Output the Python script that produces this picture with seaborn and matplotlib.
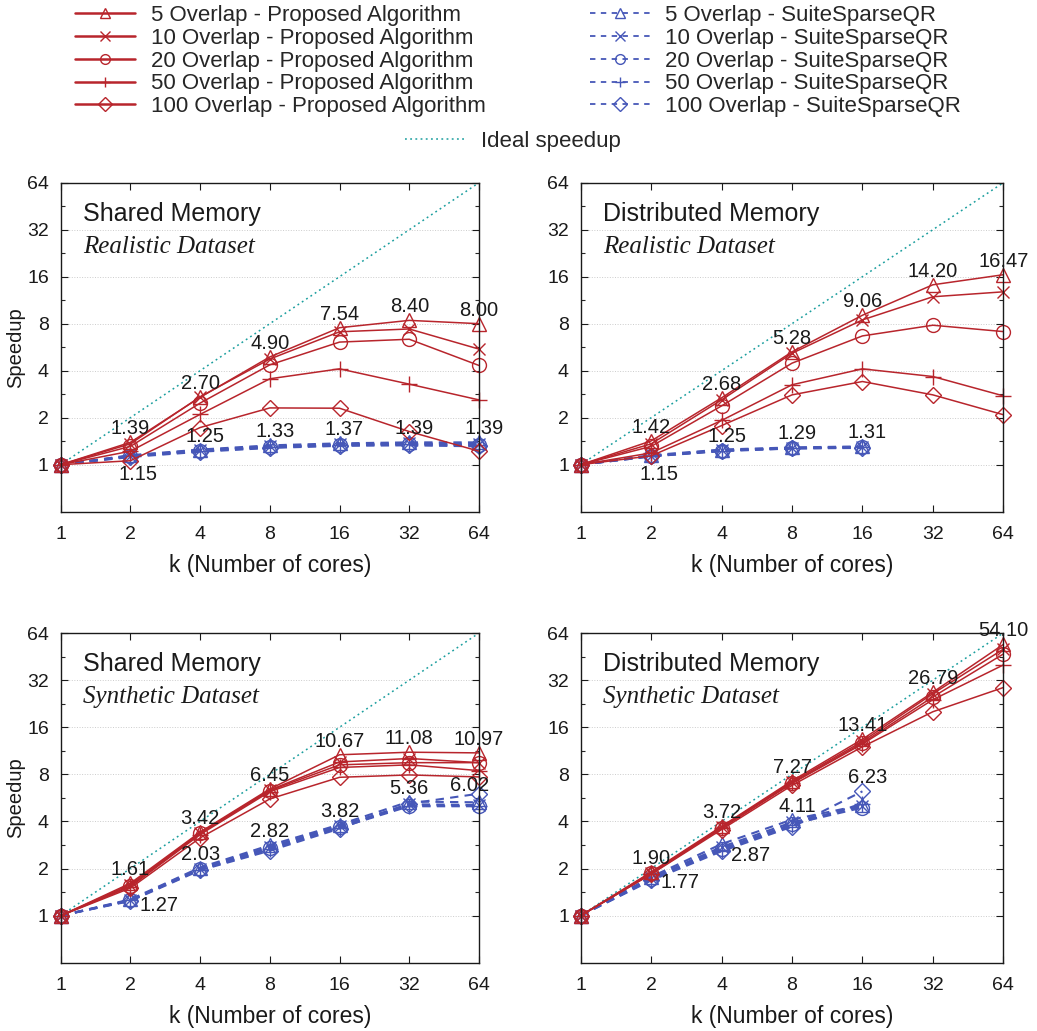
import numpy as np
import matplotlib
matplotlib.use("Agg")
import matplotlib.pyplot as plt
from matplotlib.lines import Line2D
from matplotlib.ticker import FixedLocator, NullFormatter
import seaborn as sns

# Dados (speedup x número de cores)
cores = [1, 2, 4, 8, 16, 32, 64]
cores_ss_dist = [1, 2, 4, 8, 16]
overlaps = ["5", "10", "20", "50", "100"]

# Shared memory - realistic
shared_real_prop = [
    [1, 1.39, 2.70, 4.90, 7.54, 8.40, 8.00],
    [1, 1.36, 2.72, 4.75, 7.10, 7.40, 5.50],
    [1, 1.31, 2.48, 4.36, 6.10, 6.36, 4.32],
    [1, 1.22, 2.10, 3.55, 4.11, 3.28, 2.60],
    [1, 1.06, 1.73, 2.31, 2.30, 1.63, 1.22],
]
shared_real_ss = [
    [1, 1.15, 1.25, 1.33, 1.37, 1.39, 1.39],
    [1, 1.14, 1.24, 1.31, 1.35, 1.37, 1.36],
    [1, 1.13, 1.23, 1.30, 1.34, 1.36, 1.34],
    [1, 1.14, 1.22, 1.29, 1.33, 1.35, 1.33],
    [1, 1.12, 1.21, 1.28, 1.32, 1.33, 1.31],
]

# Distributed memory - realistic
dist_real_prop = [
    [1, 1.42, 2.68, 5.28, 9.06, 14.20, 16.47],
    [1, 1.36, 2.60, 5.17, 8.46, 11.90, 12.80],
    [1, 1.31, 2.38, 4.47, 6.68, 7.82, 7.12],
    [1, 1.19, 1.92, 3.25, 4.11, 3.67, 2.76],
    [1, 1.14, 1.78, 2.80, 3.41, 2.80, 2.09],
]
dist_real_ss = [
    [1, 1.15, 1.25, 1.29, 1.31],
    [1, 1.14, 1.24, 1.28, 1.30],
    [1, 1.14, 1.23, 1.28, 1.29],
    [1, 1.13, 1.23, 1.27, 1.29],
    [1, 1.13, 1.22, 1.27, 1.28],
]

# Shared memory - synthetic
shared_syn_prop = [
    [1, 1.61, 3.42, 6.45, 10.67, 11.08, 10.97],
    [1, 1.58, 3.38, 6.35, 9.60, 10.10, 9.50],
    [1, 1.55, 3.35, 6.30, 9.20, 9.50, 9.50],
    [1, 1.53, 3.30, 6.20, 8.85, 9.20, 8.45],
    [1, 1.50, 3.14, 5.57, 7.66, 7.93, 7.70],
]
shared_syn_ss = [
    [1, 1.27, 2.03, 2.82, 3.82, 5.36, 5.30],
    [1, 1.26, 2.00, 2.75, 3.75, 5.15, 5.10],
    [1, 1.25, 1.98, 2.70, 3.70, 5.05, 5.05],
    [1, 1.25, 1.97, 2.65, 3.65, 5.00, 5.00],
    [1, 1.24, 1.95, 2.60, 3.60, 5.20, 6.02],
]

# Distributed memory - synthetic
dist_syn_prop = [
    [1, 1.90, 3.72, 7.27, 13.41, 26.79, 54.10],
    [1, 1.88, 3.68, 7.15, 13.00, 26.20, 50.50],
    [1, 1.86, 3.65, 7.05, 12.70, 25.00, 47.00],
    [1, 1.85, 3.62, 7.00, 12.50, 24.00, 40.00],
    [1, 1.84, 3.55, 6.80, 12.00, 20.10, 28.70],
]
dist_syn_ss = [
    [1, 1.77, 2.87, 4.11, 5.10],
    [1, 1.74, 2.75, 3.95, 5.00],
    [1, 1.72, 2.68, 3.85, 4.90],
    [1, 1.70, 2.62, 3.78, 5.20],
    [1, 1.68, 2.58, 3.70, 6.23],
]

# Rótulos numéricos (cores, texto, estilo)
notes_shared_real = [(2, "1.39", "up"), (4, "2.70", "up"), (8, "4.90", "up"),
                     (16, "7.54", "up"), (32, "8.40", "up"), (64, "8.00", "up"),
                     (2, "1.15", "down"), (4, "1.25", "upr"), (8, "1.33", "upr"),
                     (16, "1.37", "upr"), (32, "1.39", "upr"), (64, "1.39", "upr")]
notes_dist_real = [(2, "1.42", "up"), (4, "2.68", "up"), (8, "5.28", "up"),
                   (16, "9.06", "up"), (32, "14.20", "up"), (64, "16.47", "up"),
                   (2, "1.15", "down"), (4, "1.25", "upr"), (8, "1.29", "upr"),
                   (16, "1.31", "upr")]
notes_shared_syn = [(2, "1.61", "up"), (4, "3.42", "up"), (8, "6.45", "up"),
                    (16, "10.67", "up"), (32, "11.08", "up"), (64, "10.97", "up"),
                    (2, "1.27", "right"), (4, "2.03", "up"), (8, "2.82", "up"),
                    (16, "3.82", "up"), (32, "5.36", "up"), (64, "6.02", "upl")]
notes_dist_syn = [(2, "1.90", "up"), (4, "3.72", "up"), (8, "7.27", "up"),
                  (16, "13.41", "up"), (32, "26.79", "up"), (64, "54.10", "up"),
                  (2, "1.77", "right"), (4, "2.87", "right2"), (8, "4.11", "upr"),
                  (16, "6.23", "upr")]

sns.set_theme(style="ticks")
plt.rcParams["font.family"] = ["Liberation Sans", "DejaVu Sans"]

RED = "#b8252c"
BLUE = "#4657b8"
TEAL = "#1a9e9e"
INK = "#1a1a1a"
markers = ["^", "x", "o", "+", "D"]
msizes = [10, 9, 10, 11, 8]

note_style = {
    "up": (0, 8, "center", "baseline"),
    "upr": (5, 8, "center", "baseline"),
    "upl": (-9, 3, "center", "baseline"),
    "down": (8, -10, "center", "top"),
    "right": (9, -6, "left", "center"),
    "right2": (9, -11, "left", "center"),
}

fig = plt.figure(figsize=(10.37, 10.31), dpi=100)

paineis = [
    ([0.0585, 0.5037, 0.4034, 0.3191], "Shared Memory", "Realistic Dataset",
     shared_real_prop, shared_real_ss, cores, notes_shared_real, True),
    ([0.5600, 0.5037, 0.4075, 0.3191], "Distributed Memory", "Realistic Dataset",
     dist_real_prop, dist_real_ss, cores_ss_dist, notes_dist_real, False),
    ([0.0585, 0.0662, 0.4034, 0.3198], "Shared Memory", "Synthetic Dataset",
     shared_syn_prop, shared_syn_ss, cores, notes_shared_syn, True),
    ([0.5600, 0.0662, 0.4075, 0.3198], "Distributed Memory", "Synthetic Dataset",
     dist_syn_prop, dist_syn_ss, cores_ss_dist, notes_dist_syn, False),
]

for pos, titulo, subtitulo, prop, ss, x_ss, notas, ylab in paineis:
    ax = fig.add_axes(pos)
    ax.set_xscale("log", base=2)
    ax.set_yscale("log", base=2)

    ax.grid(axis="y", color="#cccccc", linestyle=":", linewidth=0.7)
    ax.set_axisbelow(True)

    # Ideal speedup
    sns.lineplot(x=cores, y=cores, ax=ax, color=TEAL, linestyle=(0, (1.2, 2.2)),
                 linewidth=1.1, legend=False)

    for i in range(5):
        sns.lineplot(x=x_ss, y=ss[i], ax=ax, color=BLUE, linestyle=(0, (4, 3)),
                     linewidth=1.5, marker=markers[i], markersize=msizes[i],
                     markerfacecolor="none", markeredgecolor=BLUE,
                     markeredgewidth=1.0, clip_on=False, legend=False)
    for i in range(5):
        sns.lineplot(x=cores, y=prop[i], ax=ax, color=RED, linewidth=1.1,
                     marker=markers[i], markersize=msizes[i],
                     markerfacecolor="none", markeredgecolor=RED,
                     markeredgewidth=1.0, clip_on=False, legend=False)

    for k, txt, st in notas:
        dx, dy, ha, va = note_style[st]
        ax.annotate(txt, xy=(k, float(txt)), xytext=(dx, dy),
                    textcoords="offset pixels", ha=ha, va=va,
                    fontsize=14.5, color=INK, zorder=5, annotation_clip=False)

    ax.set_xlim(1, 64)
    ax.set_ylim(0.5, 64)
    ax.set_xticks(cores)
    ax.set_xticklabels([str(c) for c in cores])
    ax.set_yticks(cores)
    ax.set_yticklabels([str(c) for c in cores])
    ax.xaxis.set_minor_locator(FixedLocator([]))
    ax.yaxis.set_minor_locator(FixedLocator([c * np.sqrt(2) for c in cores[:-1]]))
    ax.yaxis.set_minor_formatter(NullFormatter())
    ax.tick_params(which="major", direction="in", length=5, width=0.8,
                   top=True, right=True, labelsize=14, pad=10, colors=INK)
    ax.tick_params(axis="y", which="major", pad=8.5)
    ax.tick_params(which="minor", direction="in", length=3, width=0.8,
                   left=True, right=True)
    for sp in ax.spines.values():
        sp.set_color(INK)
        sp.set_linewidth(1.0)

    ax.set_xlabel("k (Number of cores)", fontsize=16.5, labelpad=8, color=INK)
    if ylab:
        ax.set_ylabel("Speedup", fontsize=14.5, labelpad=1, color=INK)
    else:
        ax.set_ylabel("")

    ax.text(0.053, 0.884, titulo, transform=ax.transAxes, fontsize=18,
            va="baseline", ha="left", color=INK)
    ax.text(0.053, 0.787, subtitulo, transform=ax.transAxes, fontsize=18,
            va="baseline", ha="left", style="italic",
            family=["Liberation Serif", "DejaVu Serif"], color=INK)

# Legenda
handles = []
labels = []
for i, ov in enumerate(overlaps):
    handles.append(Line2D([], [], color=RED, linewidth=1.8, marker=markers[i],
                          markersize=7, markerfacecolor="none",
                          markeredgecolor=RED, markeredgewidth=1.0))
    labels.append(f"{ov} Overlap - Proposed Algorithm")
for i, ov in enumerate(overlaps):
    handles.append(Line2D([], [], color=BLUE, linewidth=1.3, linestyle=(0, (3, 3)),
                          marker=markers[i], markersize=7, markerfacecolor="none",
                          markeredgecolor=BLUE, markeredgewidth=1.0))
    labels.append(f"{ov} Overlap - SuiteSparseQR")

fig.legend(handles, labels, ncol=2, loc="upper left",
           bbox_to_anchor=(75 / 1037, 1 - 5 / 1031), frameon=False,
           fontsize=16, handlelength=2.7, handletextpad=0.7, columnspacing=4.7,
           labelspacing=0.08, borderpad=0, borderaxespad=0)

ideal = Line2D([], [], color=TEAL, linestyle=(0, (1.2, 2.2)), linewidth=1.1)
fig.legend([ideal], ["Ideal speedup"], loc="center left",
           bbox_to_anchor=(405 / 1037, 1 - 141 / 1031), frameon=False,
           fontsize=16, handlelength=2.7, handletextpad=0.7,
           borderpad=0, borderaxespad=0)

plt.savefig("out.png", dpi=100)
plt.close()
